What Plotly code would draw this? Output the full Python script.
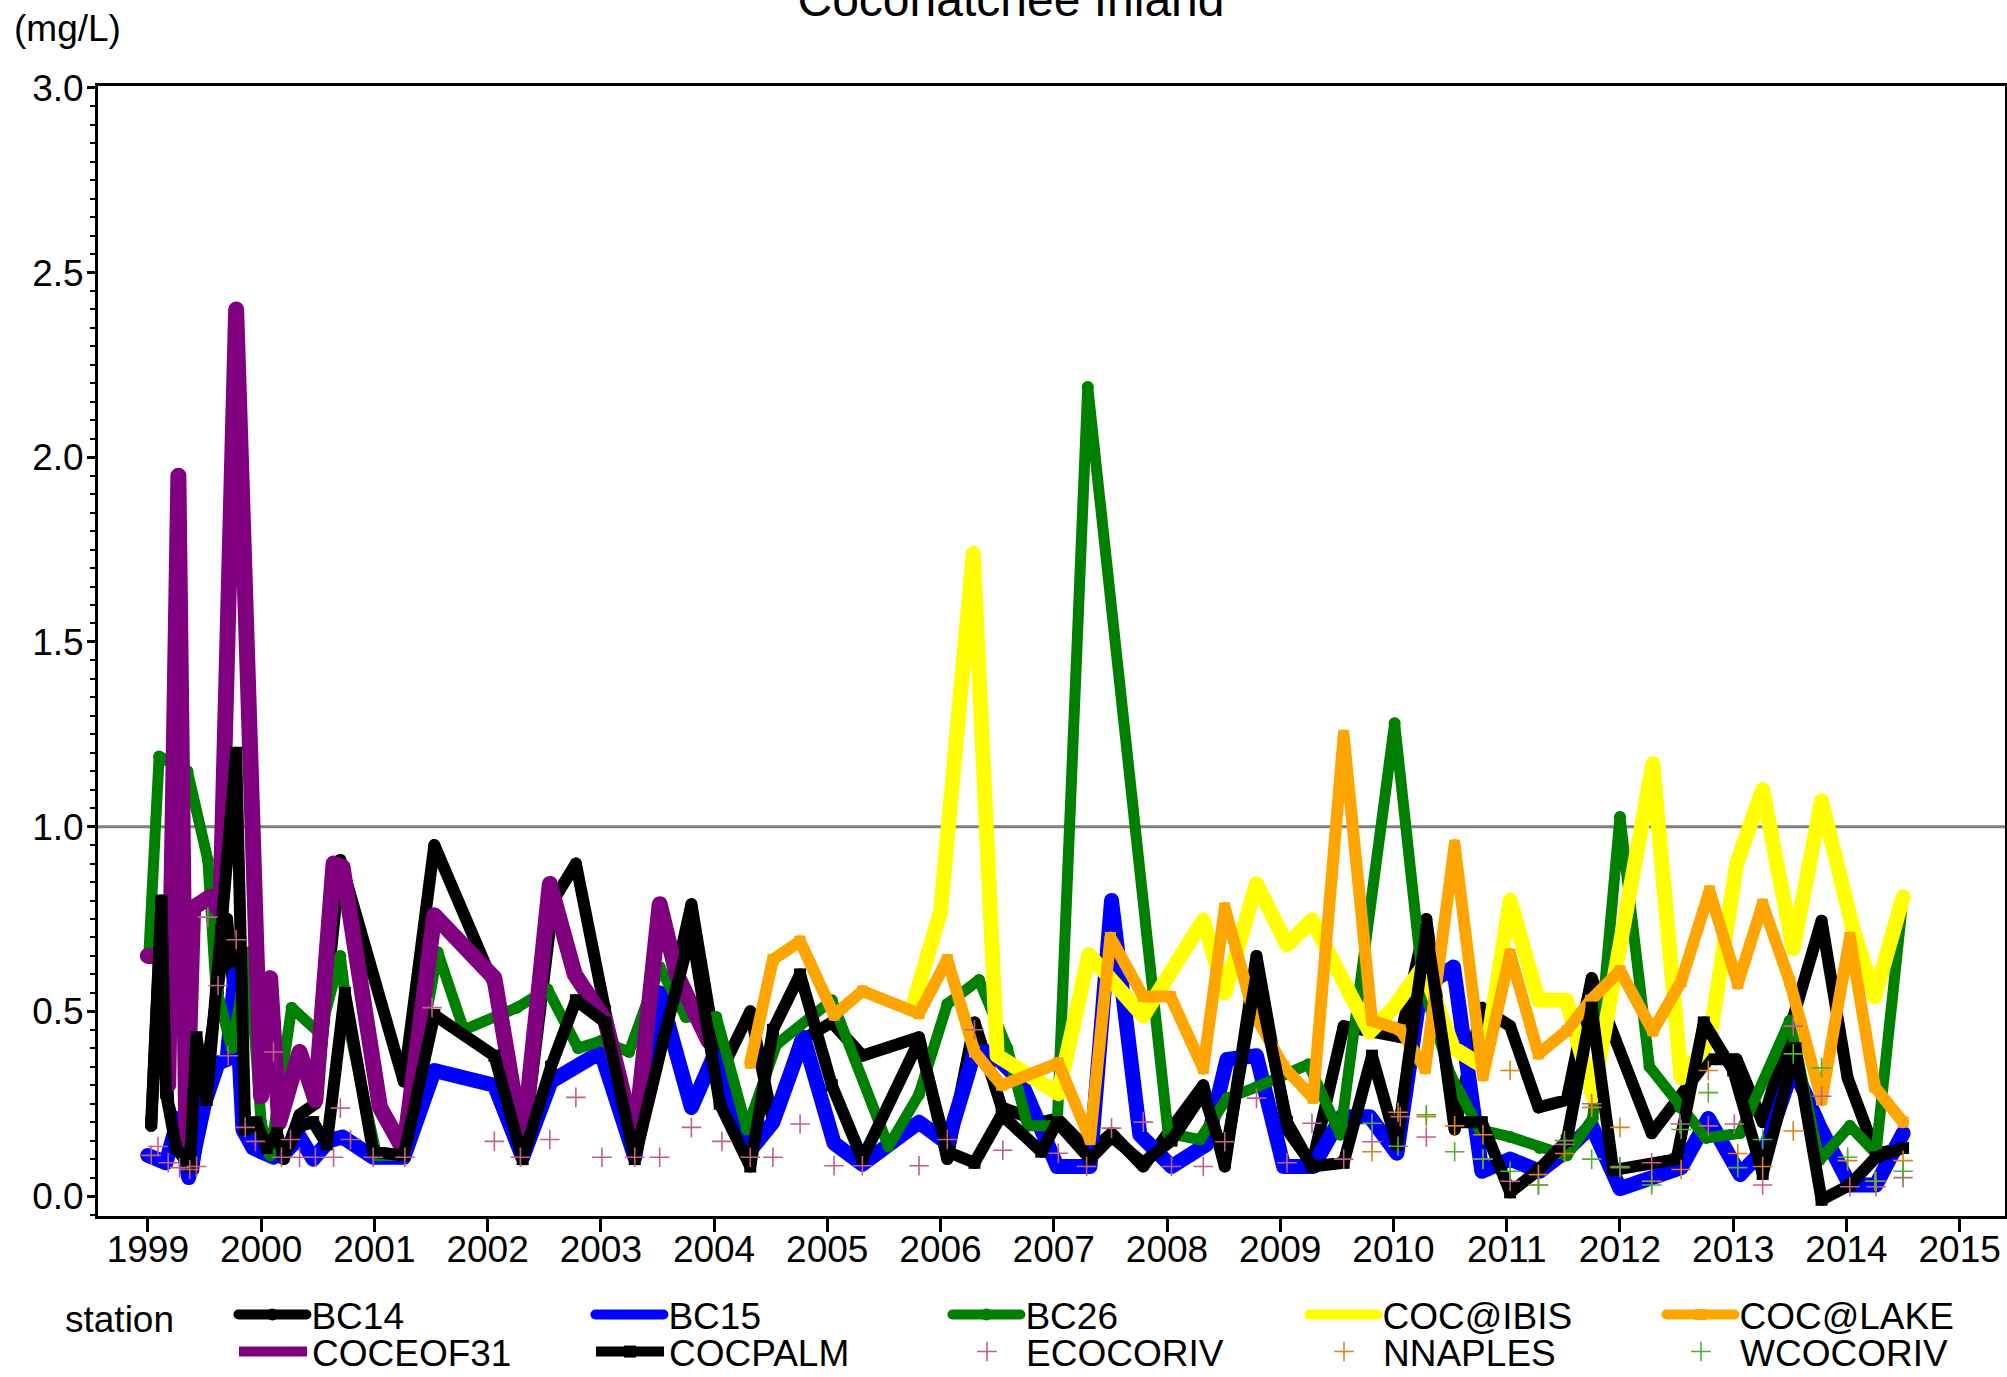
import plotly.graph_objects as go

# ---------------- data (decimal year, mg/L) ----------------
bc14_x = [1999.03, 1999.12, 1999.18, 1999.30, 1999.40, 1999.50, 1999.62, 1999.70, 1999.86, 2000.05, 2000.20, 2000.34, 2000.48,
          2000.70, 2001.26, 2001.53, 2002.06, 2002.31, 2002.58, 2002.78, 2003.04, 2003.30, 2003.80, 2004.05, 2004.32, 2004.52,
          2004.76, 2005.04, 2005.31, 2005.81, 2006.06, 2006.30, 2006.54, 2006.89, 2007.03, 2007.32, 2007.51, 2007.79, 2008.32,
          2008.51, 2008.79, 2009.06, 2009.28, 2009.56, 2010.06, 2010.29, 2010.54, 2010.78, 2011.03, 2011.28, 2011.53, 2011.75,
          2012.28, 2012.78, 2013.03, 2013.26, 2013.78, 2014.01, 2014.26, 2014.50]
bc14_y = [0.19, 0.78, 0.25, 0.12, 0.07, 0.30, 0.55, 0.75, 0.20, 0.14, 0.10, 0.22, 0.25,
          0.91, 0.31, 0.95, 0.57, 0.11, 0.80, 0.90, 0.51, 0.10, 0.79, 0.33, 0.50, 0.20,
          0.42, 0.47, 0.38, 0.43, 0.10, 0.47, 0.24, 0.20, 0.21, 0.12, 0.17, 0.08, 0.30,
          0.08, 0.65, 0.18, 0.085, 0.46, 0.43, 0.75, 0.18, 0.51, 0.46, 0.24, 0.26, 0.59,
          0.17, 0.37, 0.37, 0.20, 0.745, 0.32, 0.115, 0.13]

bc15_x = [1999.00, 1999.16, 1999.27, 1999.36, 1999.50, 1999.62, 1999.70, 1999.77, 1999.84, 1999.93, 2000.11, 2000.22, 2000.34,
          2000.46, 2000.60, 2000.72, 2000.99, 2001.26, 2001.53, 2002.06, 2002.31, 2002.56, 2002.78, 2003.00, 2003.30, 2003.52,
          2003.80, 2004.00, 2004.32, 2004.52, 2004.79, 2005.06, 2005.31, 2005.56, 2005.81, 2006.06, 2006.30, 2006.45, 2006.71,
          2007.03, 2007.32, 2007.51, 2007.76, 2008.04, 2008.35, 2008.53, 2008.79, 2009.03, 2009.29, 2009.54, 2009.79, 2010.03,
          2010.24, 2010.53, 2010.78, 2011.03, 2011.29, 2011.53, 2011.75, 2012.00, 2012.26, 2012.54, 2012.78, 2013.06, 2013.29,
          2013.53, 2013.76, 2014.03, 2014.26, 2014.50]
bc15_y = [0.11, 0.09, 0.21, 0.05, 0.25, 0.36, 0.37, 0.60, 0.18, 0.13, 0.105, 0.12, 0.16,
          0.10, 0.15, 0.16, 0.105, 0.105, 0.34, 0.30, 0.105, 0.31, 0.35, 0.39, 0.105, 0.55,
          0.24, 0.38, 0.124, 0.20, 0.43, 0.143, 0.086, 0.143, 0.20, 0.143, 0.39, 0.39, 0.31,
          0.08, 0.08, 0.80, 0.166, 0.08, 0.14, 0.37, 0.38, 0.08, 0.08, 0.215, 0.215, 0.116,
          0.56, 0.62, 0.067, 0.10, 0.067, 0.124, 0.19, 0.02, 0.05, 0.077, 0.21, 0.058, 0.134,
          0.35, 0.19, 0.03, 0.03, 0.17]

bc26_x = [1999.01, 1999.10, 1999.35, 1999.53, 1999.60, 1999.74, 1999.89, 2000.00, 2000.08, 2000.27, 2000.52, 2000.70, 2000.78,
          2001.02, 2001.23, 2001.56, 2001.79, 2002.26, 2002.53, 2002.80, 2003.00, 2003.25, 2003.52, 2003.75, 2004.02, 2004.29,
          2004.55, 2005.04, 2005.54, 2005.81, 2006.06, 2006.34, 2006.59, 2006.77, 2007.03, 2007.30, 2008.01, 2008.29, 2008.53,
          2008.79, 2009.25, 2009.53, 2010.01, 2010.26, 2010.50, 2010.76, 2011.03, 2011.29, 2011.53, 2011.76, 2012.00, 2012.26,
          2012.53, 2012.76, 2013.06, 2013.50, 2013.76, 2014.03, 2014.26, 2014.50]
bc26_y = [0.66, 1.19, 1.15, 0.91, 0.57, 0.40, 0.66, 0.20, 0.11, 0.51, 0.44, 0.65, 0.45,
          0.11, 0.11, 0.66, 0.45, 0.51, 0.56, 0.40, 0.42, 0.39, 0.62, 0.485, 0.485, 0.18,
          0.41, 0.53, 0.134, 0.275, 0.52, 0.585, 0.40, 0.19, 0.19, 2.19, 0.17, 0.153, 0.265,
          0.295, 0.357, 0.166, 1.28, 0.573, 0.33, 0.18, 0.16, 0.13, 0.11, 0.21, 1.026, 0.35,
          0.24, 0.157, 0.17, 0.475, 0.096, 0.19, 0.115, 0.81]

ibis_x = [2005.77, 2006.00, 2006.29, 2006.50, 2006.71, 2007.04, 2007.31, 2007.79, 2008.32, 2008.51, 2008.79, 2009.06, 2009.28,
          2009.79, 2010.00, 2010.26, 2010.53, 2010.80, 2011.03, 2011.28, 2011.53, 2011.76, 2012.29, 2012.54, 2012.79, 2013.03,
          2013.26, 2013.53, 2013.78, 2014.06, 2014.25, 2014.50]
ibis_y = [0.53, 0.77, 1.74, 0.38, 0.34, 0.277, 0.654, 0.487, 0.747, 0.55, 0.845, 0.68, 0.747,
          0.444, 0.51, 0.62, 0.40, 0.35, 0.80, 0.53, 0.53, 0.27, 1.17, 0.32, 0.42, 0.90,
          1.10, 0.67, 1.07, 0.72, 0.54, 0.81]

lake_x = [2004.32, 2004.52, 2004.76, 2005.06, 2005.31, 2005.81, 2006.06, 2006.30, 2006.54, 2007.04, 2007.32, 2007.50, 2007.79,
          2008.03, 2008.32, 2008.51, 2008.76, 2009.03, 2009.29, 2009.56, 2009.81, 2010.06, 2010.28, 2010.54, 2010.79, 2011.03,
          2011.28, 2011.53, 2011.74, 2012.00, 2012.29, 2012.54, 2012.79, 2013.04, 2013.26, 2013.50, 2013.78, 2014.03, 2014.25,
          2014.50]
lake_y = [0.36, 0.64, 0.69, 0.49, 0.555, 0.494, 0.64, 0.39, 0.30, 0.36, 0.153, 0.70, 0.54,
          0.54, 0.345, 0.78, 0.50, 0.35, 0.265, 1.247, 0.475, 0.45, 0.345, 0.95, 0.326, 0.655,
          0.385, 0.447, 0.53, 0.61, 0.447, 0.58, 0.826, 0.575, 0.79, 0.58, 0.26, 0.70, 0.295,
          0.20]

eof31_x = [1999.00, 1999.12, 1999.18, 1999.27, 1999.34, 1999.40, 1999.55, 1999.64, 1999.78, 1999.93, 2000.00, 2000.08, 2000.16,
           2000.34, 2000.48, 2000.64, 2000.72, 2001.05, 2001.26, 2001.53, 2002.06, 2002.31, 2002.55, 2002.77, 2003.04, 2003.30,
           2003.52, 2003.67, 2003.95]
eof31_y = [0.65, 0.65, 0.30, 1.95, 0.15, 0.78, 0.81, 0.77, 2.40, 0.85, 0.27, 0.59, 0.20,
           0.39, 0.26, 0.90, 0.89, 0.24, 0.124, 0.76, 0.59, 0.134, 0.845, 0.60, 0.475, 0.15,
           0.79, 0.60, 0.42]

palm_x = [1999.03, 1999.12, 1999.16, 1999.25, 1999.37, 1999.43, 1999.52, 1999.65, 1999.78, 1999.86, 1999.96, 2000.05, 2000.14,
          2000.20, 2000.34, 2000.46, 2000.58, 2000.74, 2000.99, 2001.26, 2001.53, 2002.06, 2002.31, 2002.56, 2002.78, 2003.04,
          2003.30, 2003.55, 2003.80, 2004.05, 2004.32, 2004.52, 2004.76, 2005.04, 2005.31, 2005.81, 2006.06, 2006.30, 2006.54,
          2006.89, 2007.03, 2007.32, 2007.51, 2007.79, 2008.04, 2008.32, 2008.51, 2008.79, 2009.06, 2009.28, 2009.56, 2009.81,
          2010.03, 2010.29, 2010.54, 2010.78, 2011.03, 2011.28, 2011.53, 2011.75, 2011.94, 2012.50, 2012.74, 2013.00, 2013.26,
          2013.55, 2013.78, 2014.03, 2014.26, 2014.50]
palm_y = [0.20, 0.80, 0.28, 0.13, 0.08, 0.43, 0.26, 0.72, 1.20, 0.18, 0.20, 0.13, 0.17,
          0.11, 0.19, 0.20, 0.14, 0.55, 0.12, 0.11, 0.49, 0.38, 0.10, 0.35, 0.53, 0.47,
          0.10, 0.42, 0.72, 0.25, 0.08, 0.45, 0.60, 0.30, 0.10, 0.42, 0.12, 0.09, 0.22,
          0.12, 0.20, 0.10, 0.16, 0.09, 0.15, 0.28, 0.10, 0.60, 0.20, 0.08, 0.09, 0.38,
          0.14, 0.72, 0.20, 0.20, 0.01, 0.07, 0.15, 0.51, 0.07, 0.10, 0.47, 0.34, 0.06,
          0.40, -0.01, 0.03, 0.105, 0.13]

ecoc_x = [1999.03, 1999.09, 1999.18, 1999.28, 1999.37, 1999.43, 1999.53, 1999.62, 1999.71, 1999.78, 1999.86, 1999.95, 2000.11,
          2000.18, 2000.26, 2000.34, 2000.48, 2000.64, 2000.70, 2000.79, 2000.99, 2001.27, 2001.51, 2002.06, 2002.29, 2002.55,
          2002.78, 2003.01, 2003.30, 2003.52, 2003.80, 2004.07, 2004.32, 2004.52, 2004.76, 2005.06, 2005.31, 2005.81, 2006.06,
          2006.30, 2006.55, 2007.04, 2007.29, 2007.51, 2007.79, 2008.04, 2008.32, 2008.51, 2008.79, 2009.06, 2009.28, 2009.56,
          2009.81, 2010.06, 2010.29, 2010.79, 2011.03, 2011.28, 2011.51, 2011.75, 2012.00, 2012.28, 2012.53, 2012.78, 2013.01,
          2013.26, 2013.53, 2013.78, 2014.03, 2014.26, 2014.50]
ecoc_y = [0.11, 0.134, 0.09, 0.077, 0.072, 0.08, 0.755, 0.57, 0.38, 0.694, 0.186, 0.148, 0.39,
          0.105, 0.153, 0.105, 0.105, 0.105, 0.238, 0.153, 0.105, 0.105, 0.51, 0.148, 0.105, 0.153,
          0.267, 0.105, 0.105, 0.105, 0.186, 0.148, 0.105, 0.105, 0.195, 0.082, 0.082, 0.082, 0.153,
          0.45, 0.124, 0.116, 0.08, 0.184, 0.20, 0.08, 0.08, 0.147, 0.265, 0.09, 0.197, 0.10,
          0.147, 0.215, 0.16, 0.10, 0.04, 0.03, 0.14, 0.25, 0.08, 0.09, 0.195, 0.19, 0.195,
          0.03, 0.46, 0.27, 0.025, 0.025, 0.05]

nnap_x = [2009.81, 2010.04, 2010.29, 2010.54, 2010.79, 2011.03, 2011.28, 2011.51, 2011.75, 2012.00, 2012.28, 2012.54, 2012.78,
          2013.04, 2013.26, 2013.53, 2014.01, 2014.26, 2014.50]
nnap_y = [0.12, 0.227, 0.215, 0.19, 0.166, 0.34, 0.058, 0.115, 0.24, 0.186, 0.04, 0.072, 0.34,
          0.115, 0.08, 0.176, 0.096, 0.04, 0.096]

wcoc_x = [2009.81, 2010.04, 2010.29, 2010.54, 2010.79, 2011.03, 2011.28, 2011.51, 2011.75, 2012.00, 2012.28, 2012.54, 2012.78,
          2013.04, 2013.26, 2013.53, 2013.78, 2014.01, 2014.25, 2014.50]
wcoc_y = [0.197, 0.135, 0.22, 0.12, 0.10, 0.067, 0.03, 0.15, 0.10, 0.077, 0.03, 0.18, 0.28,
          0.077, 0.153, 0.385, 0.347, 0.105, 0.04, 0.067]

year_ticks = list(range(1999, 2016))
year_labels = [str(y) for y in year_ticks]
conc_ticks = [0.0, 0.5, 1.0, 1.5, 2.0, 2.5, 3.0]
conc_labels = ["0.0", "0.5", "1.0", "1.5", "2.0", "2.5", "3.0"]

FONT = "Liberation Sans, Arial, sans-serif"

L, R, T, B = 98, 2, 86, 161
W, H = 2007, 1377
pw, ph = W - L - R, H - T - B

fig = go.Figure()

def line_trace(name, x, y, color, width, legend, marker=None):
    kw = dict(x=x, y=y, name=name, line=dict(color=color, width=width), mode="lines", legend=legend)
    if marker:
        kw["mode"] = "lines+markers"
        kw["marker"] = dict(color=color, size=marker[1], symbol=marker[0])
    fig.add_trace(go.Scatter(**kw))

line_trace("BC14", bc14_x, bc14_y, "black", 12, "legend", ("circle", 12))
line_trace("BC15", bc15_x, bc15_y, "#0000FF", 15, "legend")
line_trace("BC26", bc26_x, bc26_y, "#008000", 11, "legend", ("circle", 12))
line_trace("COC@IBIS", ibis_x, ibis_y, "#FFFF00", 15, "legend")
line_trace("COC@LAKE", lake_x, lake_y, "#FFA500", 12, "legend", ("square", 11))
line_trace("COCEOF31", eof31_x, eof31_y, "#800080", 16, "legend2")
line_trace("COCPALM", palm_x, palm_y, "black", 12, "legend2", ("square", 12))

def plus_trace(name, x, y, color):
    fig.add_trace(go.Scatter(x=x, y=y, name=name, mode="markers", legend="legend2",
                             marker=dict(symbol="cross-thin", size=14, line=dict(color=color, width=1.6))))

plus_trace("ECOCORIV", ecoc_x, ecoc_y, "#C0608A")
plus_trace("NNAPLES", nnap_x, nnap_y, "#E0801A")
plus_trace("WCOCORIV", wcoc_x, wcoc_y, "#50B030")

fig.add_shape(type="line", xref="paper", x0=0, x1=1, yref="y", y0=1.0, y1=1.0,
              line=dict(color="#808080", width=3), layer="below")

fig.add_annotation(text="(mg/L)", xref="paper", yref="paper",
                   x=(12 - L) / pw, y=1 + (T - 28) / ph, xanchor="left", yanchor="middle",
                   showarrow=False, font=dict(family=FONT, size=37, color="black"))

NB = "\u00a0" * 5
legend_common = dict(orientation="h", xanchor="left", yanchor="top",
                     font=dict(family=FONT, size=37, color="black"),
                     itemwidth=68, entrywidth=274, entrywidthmode="pixels",
                     bgcolor="rgba(0,0,0,0)", borderwidth=0)

fig.update_layout(
    width=W, height=H,
    margin=dict(l=L, r=R, t=T, b=B, pad=0, autoexpand=False),
    paper_bgcolor="white", plot_bgcolor="white",
    font=dict(family=FONT, size=37, color="black"),
    title=dict(text="Coconatchee Inland", x=1011 / W, xanchor="center",
               yref="container", y=1 - 16 / H, yanchor="bottom",
               font=dict(family=FONT, size=48, color="black")),
    showlegend=True,
    legend=dict(x=(63 - L) / pw, y=-(1284 - (H - B)) / ph,
                title=dict(text="station" + NB, side="left", font=dict(family=FONT, size=37, color="black")),
                **legend_common),
    legend2=dict(x=(234 - L) / pw, y=-(1321 - (H - B)) / ph, **legend_common),
    xaxis=dict(range=[1998.56, 2015.40], tickmode="array", tickvals=year_ticks, ticktext=year_labels,
               showgrid=False, zeroline=False, showline=True, linecolor="black", linewidth=3, mirror=True,
               ticks="outside", ticklen=13, tickwidth=3, tickcolor="black", ticklabelstandoff=-14),
    yaxis=dict(range=[-0.054, 3.005], tickmode="array", tickvals=conc_ticks, ticktext=conc_labels,
               showgrid=False, zeroline=False, showline=True, linecolor="black", linewidth=3, mirror=True,
               ticks="outside", ticklen=8, tickwidth=3, tickcolor="black", ticklabelstandoff=-4,
               minor=dict(tickmode="linear", tick0=0, dtick=0.05, ticks="outside", ticklen=5, tickwidth=2,
                          tickcolor="black", showgrid=False)),
)

post = ("document.body.style.margin='0';document.body.style.overflow='hidden';"
        "var f=function(){document.querySelectorAll('.scatterlayer .js-line, .legend .js-line')"
        ".forEach(function(p){p.style.strokeLinejoin='round';p.style.strokeLinecap='round';});};"
        "f();setTimeout(f,50);setTimeout(f,300);")

fig.write_html("out.html", config={"displayModeBar": False}, post_script=post)
